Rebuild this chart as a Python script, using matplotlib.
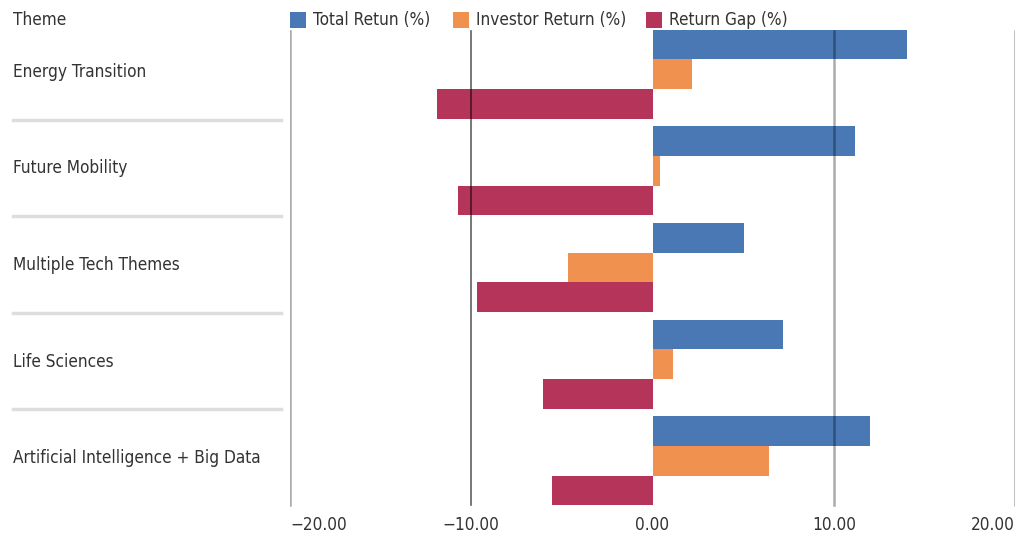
import matplotlib
matplotlib.use("Agg")
import matplotlib.pyplot as plt
from matplotlib import font_manager
from matplotlib.patches import Rectangle
from matplotlib.lines import Line2D

# ---- data ----
themes = ["Energy Transition", "Future Mobility", "Multiple Tech Themes",
          "Life Sciences", "Artificial Intelligence + Big Data"]
series_names = ["Total Retun (%)", "Investor Return (%)", "Return Gap (%)"]
total_return = [14.04, 11.18, 5.05, 7.20, 11.99]
investor_return = [2.18, 0.41, -4.66, 1.13, 6.42]
return_gap = [-11.89, -10.73, -9.69, -6.04, -5.55]
xticks = [-20, -10, 0, 10, 20]
xtick_labels = ["\u221220.00", "\u221210.00", "0.00", "10.00", "20.00"]
header = "Theme"

colors = ["#4a78b5", "#f0914f", "#b5355a"]

# ---- font ----
fp = font_manager.FontProperties(family="DejaVu Sans", stretch="condensed")
fpath = font_manager.findfont(fp)
if "Condensed" in fpath:
    FAM = "DejaVu Sans"
    STRETCH = "condensed"
    FS = 12.3
else:
    FAM = "Roboto"
    STRETCH = "normal"
    FS = 11.5
plt.rcParams["font.family"] = [FAM, "DejaVu Sans"]
plt.rcParams["font.stretch"] = STRETCH
TXT = "#333333"

W, H = 1030, 536
fig = plt.figure(figsize=(W / 100, H / 100), dpi=100)

top_px, bot_px = 26, 509
left_px, right_px = 290, 1015
ax = fig.add_axes([left_px / W, (H - bot_px) / H, (right_px - left_px) / W,
                   (bot_px - top_px) / H])

n = len(themes)
bh = 0.307
ypos = list(range(n))
for k, vals in enumerate([total_return, investor_return, return_gap]):
    ax.barh([y + (k - 1) * bh for y in ypos], vals, height=bh,
            color=colors[k], zorder=2, linewidth=0)

ax.set_xlim(-20, 20)
ax.set_ylim(n - 0.5, -0.5)
for s in ax.spines.values():
    s.set_visible(False)
ax.set_yticks([])
ax.set_xticks(xticks)
ax.set_xticklabels(xtick_labels, fontsize=FS, color=TXT)
ax.tick_params(axis="x", length=0, pad=5)
labs = ax.get_xticklabels()
labs[0].set_horizontalalignment("left")
labs[-1].set_horizontalalignment("right")

# vertical grid lines drawn over the bars
for xv in xticks:
    if xv == 0:
        continue
    if xv == -10:
        ax.axvline(xv, ymin=0.008, ymax=0.99, color="black", alpha=0.62,
                   lw=1.2, zorder=3)
    else:
        ax.axvline(xv, ymin=0.008, ymax=0.99, color="black", alpha=0.33,
                   lw=1.8, zorder=3)

# category labels and separators (left column)
for i, t in enumerate(themes):
    y_fig = (H - (top_px + (i + 0.5) * (bot_px - top_px) / n - 2.5)) / H
    fig.text(13 / W, y_fig, t, fontsize=FS, color=TXT, va="center", ha="left")
    if i < n - 1:
        y_sep = (H - (top_px + (i + 1) * (bot_px - top_px) / n - 3)) / H
        fig.add_artist(Line2D([13 / W, 281 / W], [y_sep, y_sep],
                              transform=fig.transFigure, color="#dddddd",
                              lw=2.5))

fig.text(13 / W, (H - 20) / H, header, fontsize=FS, color=TXT,
         va="center", ha="left")

# legend
leg_x = [290, 453, 646]
for k, name in enumerate(series_names):
    fig.add_artist(Rectangle((leg_x[k] / W, (H - 28) / H), 16 / W, 16 / H,
                             transform=fig.transFigure, color=colors[k],
                             lw=0))
    fig.text((leg_x[k] + 23) / W, (H - 20) / H, name, fontsize=FS,
             color=TXT, va="center", ha="left")

fig.savefig("out.png", dpi=100)
